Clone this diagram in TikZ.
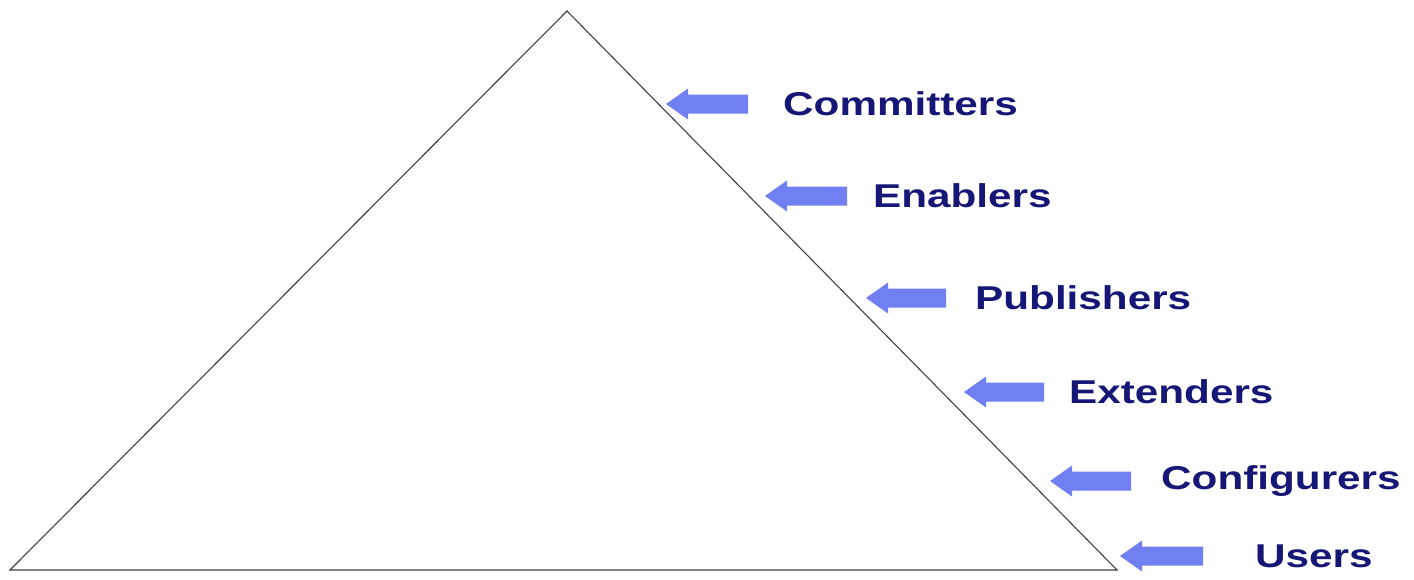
\documentclass[tikz,border=0pt]{standalone}
\usepackage{fontspec}
\setmainfont{Liberation Sans}
\definecolor{arrowblue}{RGB}{112,128,240}
\definecolor{labelnavy}{RGB}{22,22,118}
\newcommand{\widelabel}[1]{\scalebox{1.28}[1]{#1}}
\begin{document}
\begin{tikzpicture}[x=1pt,y=-1pt,
  pyramid/.style={draw=black!75,line width=1.1pt,line join=miter},
  levelarrow/.style={fill=arrowblue,draw=none},
  levellabel/.style={anchor=west,inner sep=0pt,text=labelnavy,font=\fontsize{33}{36}\selectfont\bfseries}]
\useasboundingbox (0,0) rectangle (1414,579);
% the pyramid
\coordinate (apex) at (567,11);
\coordinate (bl) at (10,570);
\coordinate (br) at (1117,570);
\draw[pyramid] (apex) -- (bl) -- (br) -- cycle;
% block arrows pointing at the pyramid, one per level
\foreach \name/\tip/\tail/\y/\tx/\txt in {
  com/666/748/104/783/Committers,
  ena/765/847/196/873/Enablers,
  pub/866/946/298/975/Publishers,
  ext/964/1044/392/1069/Extenders,
  cfg/1050/1131/481/1161/Configurers,
  usr/1120/1203/556/1255/Users}{
  \coordinate (\name-tip) at (\tip,\y);
  \fill[levelarrow] (\name-tip) -- ++(22,-15.5) -- ++(0,6) -- (\tail,\y-9.5)
     -- (\tail,\y+9.5) -- (\tip+22,\y+9.5) -- ++(0,6) -- cycle;
  \node[levellabel] (\name) at (\tx,\y) {\widelabel{\txt}};
}
\end{tikzpicture}
\end{document}
